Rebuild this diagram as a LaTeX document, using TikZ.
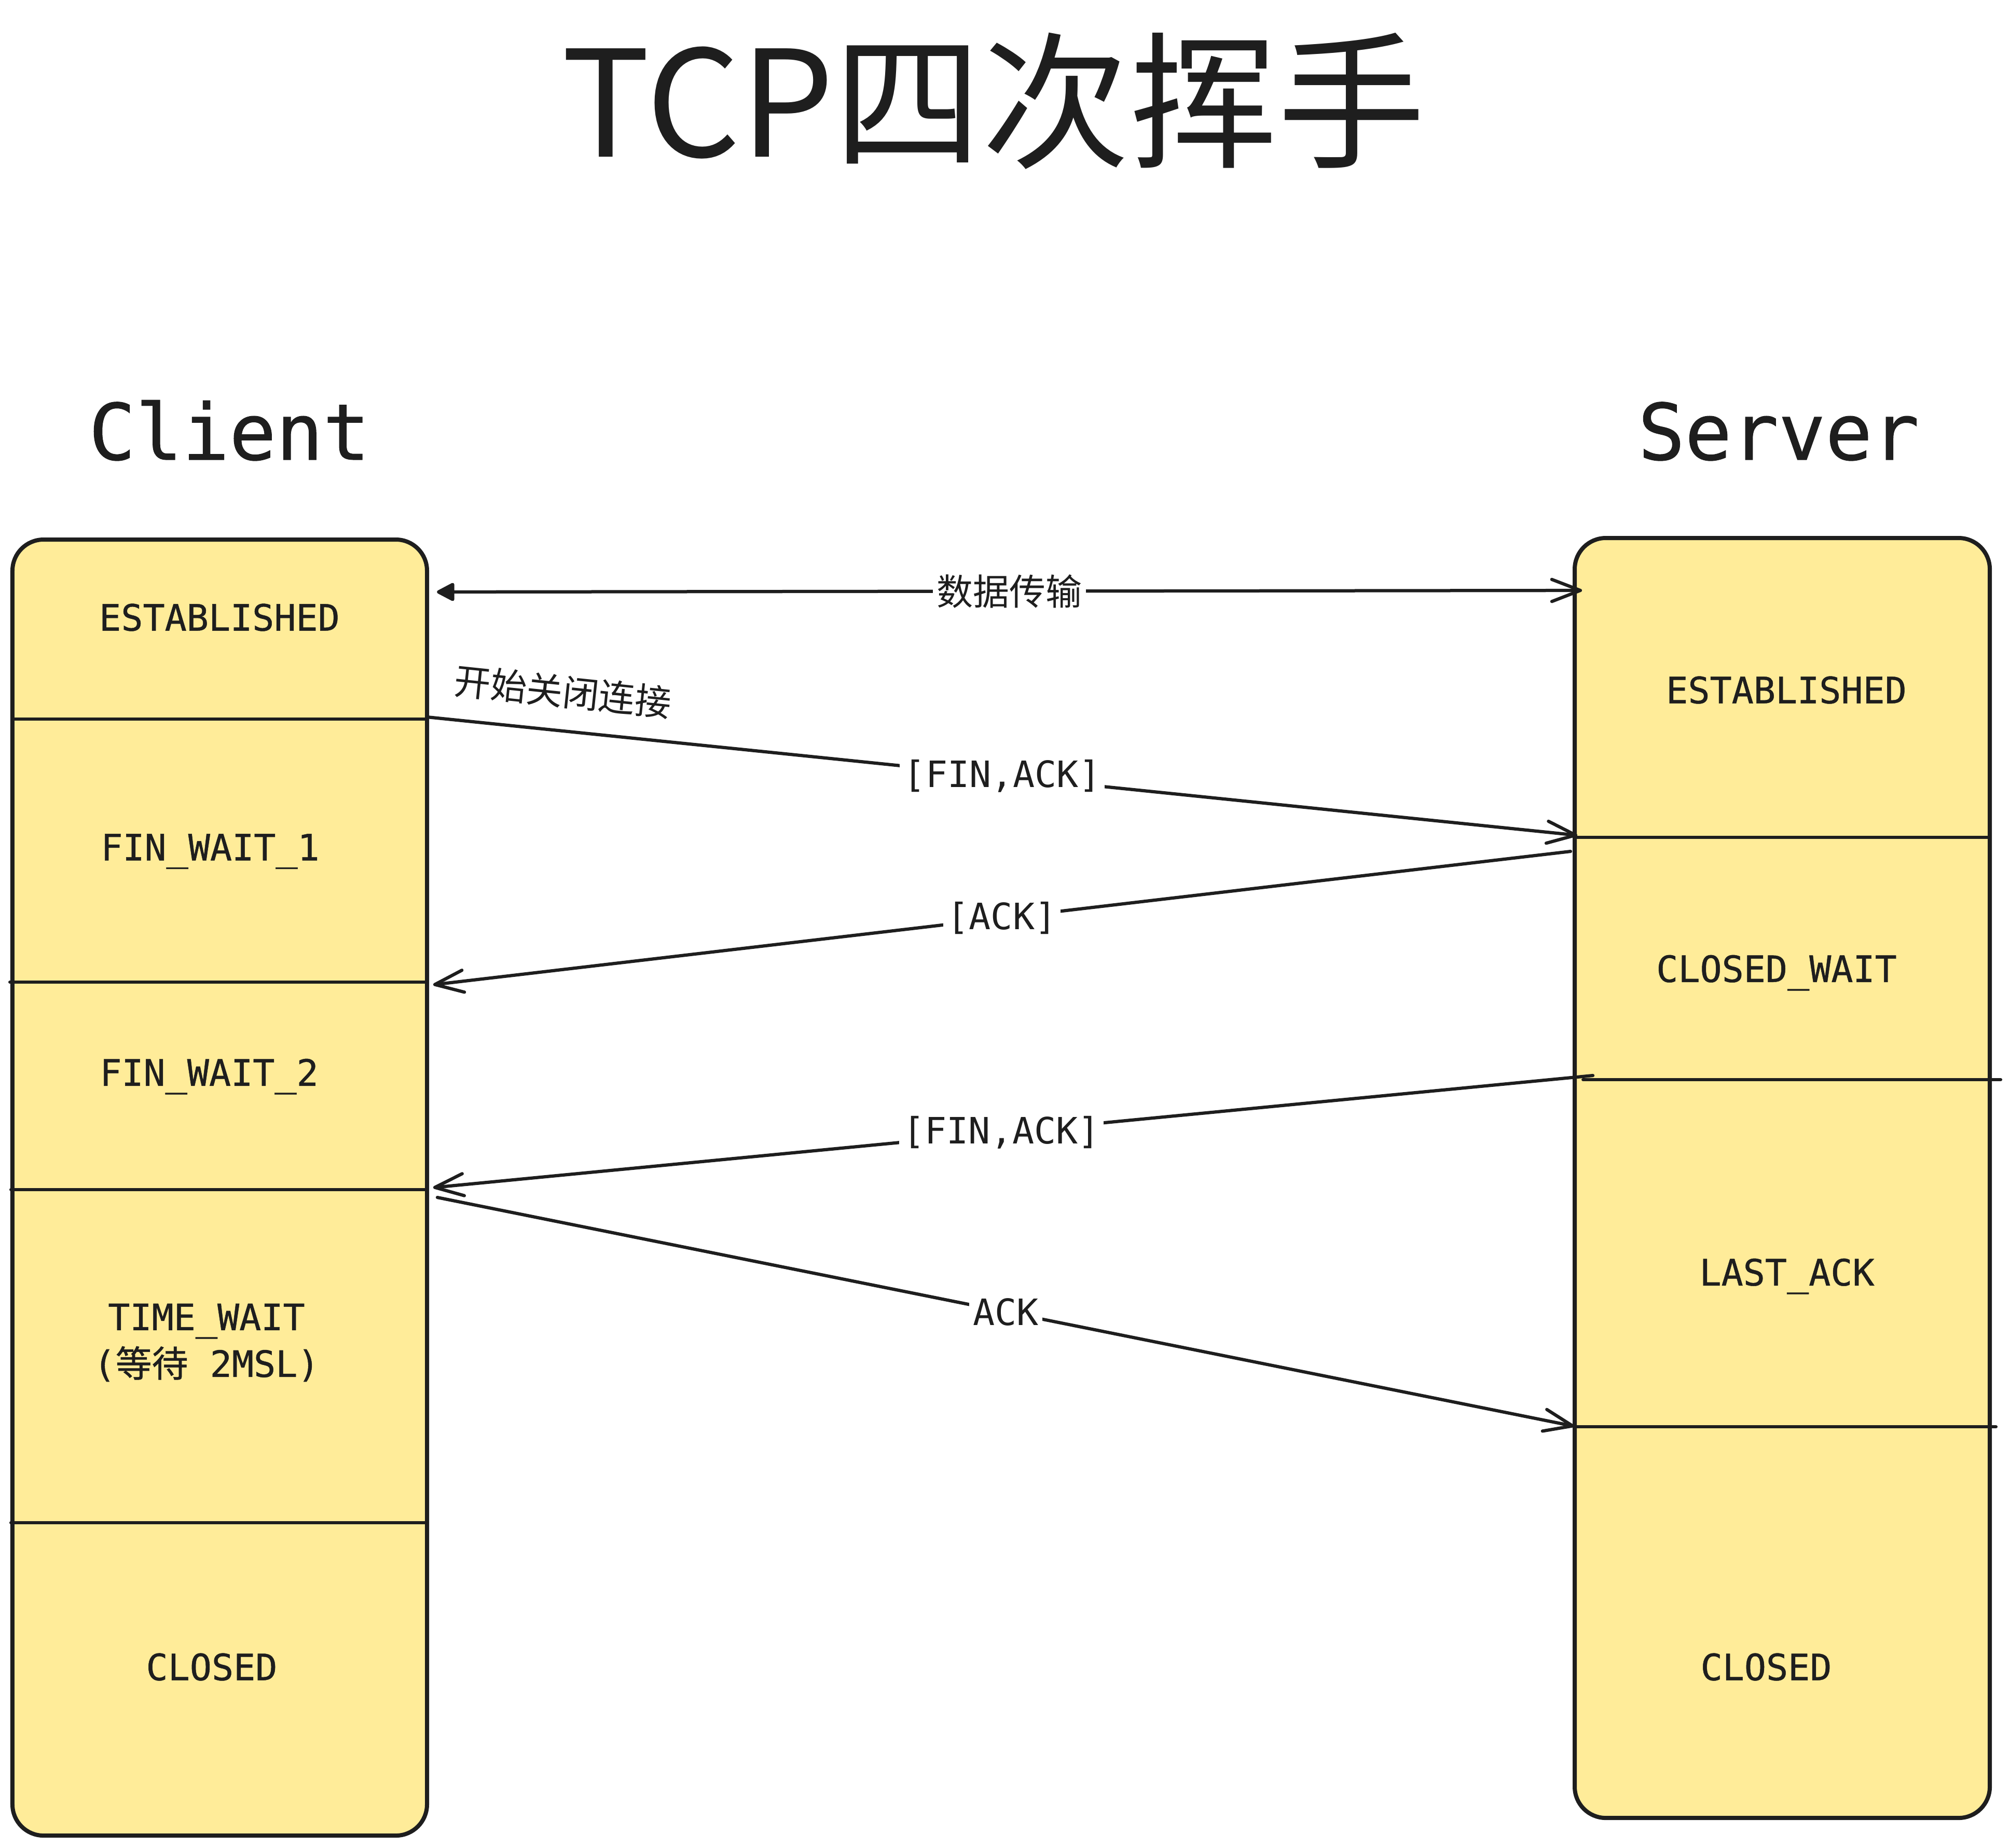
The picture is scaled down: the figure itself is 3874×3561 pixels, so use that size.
\documentclass[tikz,border=0pt]{standalone}
\usepackage{fontspec}
\setmonofont{DejaVu Sans Mono}
\newfontfamily\statemono{DejaVu Sans Mono}[FakeBold=0.7]
\newfontfamily\cjk{Noto Sans CJK SC}
\newfontfamily\statecjk{Noto Sans CJK SC}[FakeBold=0.7]
\usetikzlibrary{arrows.meta}
\definecolor{ink}{HTML}{1E1E1E}
\definecolor{note}{HTML}{FFEC99}
\begin{document}
\begin{tikzpicture}[x=0.2pt,y=-0.2pt,
  lane/.style={draw=ink, fill=note, line width=1.6pt, rounded corners=12pt,
    inner sep=0pt, outer sep=0pt},
  divider/.style={draw=ink, line width=1.2pt, line cap=round},
  state/.style={font=\statemono\fontsize{14}{18}\selectfont, text=ink, align=center, inner sep=0pt},
  heading/.style={font=\statemono\fontsize{30}{36}\selectfont, text=ink, anchor=base, inner sep=0pt},
  msg/.style={draw=ink, line width=1.25pt, line cap=round,
    -{Straight Barb[length=11pt,width=8.5pt,round]}},
  msglabel/.style={fill=white, inner sep=1.5pt, text=ink, font=\ttfamily\fontsize{14}{18}\selectfont},
  cjklabel/.style={fill=white, inner sep=1.5pt, text=ink, font=\cjk\fontsize{14}{18}\selectfont},
]
\useasboundingbox (0,0) rectangle (3874,3561);

% title and headings
\node[font=\cjk\fontsize{57}{64}\selectfont, text=ink, anchor=base, inner sep=0pt] (title) at (1915,302) {TCP四次挥手};
\node[heading] (clienthead) at (442,886) {Client};
\node[heading] (serverhead) at (3428,886) {Server};

% lanes
\node[lane, minimum width=159.8pt, minimum height=499.6pt] (client) at (423.5,2289) {};
\node[lane, minimum width=160pt, minimum height=493.4pt] (server) at (3435,2270.5) {};

% client dividers
\draw[divider] (24,1386) -- (823,1386);
\draw[divider] (19,1893) -- (823,1893);
\draw[divider] (21,2293) -- (823,2293);
\draw[divider] (21,2935) -- (823,2935);

% server dividers
\draw[divider] (3035,1614) -- (3835,1614);
\draw[divider] (3051,2081) -- (3856,2081);
\draw[divider] (3035,2750) -- (3847,2750);

% client states
\node[state] (c1) at (423,1190) {ESTABLISHED};
\node[state] (c2) at (405,1641) {FIN\_WAIT\_1};
\node[state] (c3) at (403,2075) {FIN\_WAIT\_2};
\node[state] (c4) at (398,2588) {TIME\_WAIT\\({\statecjk 等待} 2MSL)};
\node[state] (c5) at (408,3213) {CLOSED};

% server states
\node[state] (s1) at (3443,1330) {ESTABLISHED};
\node[state] (s2) at (3424,1875) {CLOSED\_WAIT};
\node[state] (s3) at (3444,2460) {LAST\_ACK};
\node[state] (s4) at (3404,3213) {CLOSED};

% connector endpoints
\coordinate (a1s) at (842,1141);
\coordinate (a1e) at (3049,1138);
\coordinate (a2s) at (823,1382);
\coordinate (a2e) at (3040,1610);
\coordinate (a3s) at (3027,1641);
\coordinate (a3e) at (835,1898);
\coordinate (a4s) at (3070,2073);
\coordinate (a4e) at (835,2289);
\coordinate (a5s) at (843,2308);
\coordinate (a5e) at (3034,2749);

% messages
\draw[msg, {Triangle[length=7.5pt,width=7.5pt,round]}-{Straight Barb[length=11pt,width=8.5pt,round]}]
  (a1s) -- node[cjklabel] (l1) {数据传输} (a1e);
\draw[msg] (a2s) -- node[msglabel] (l2) {[FIN,ACK]} (a2e);
\draw[msg] (a3s) -- node[msglabel] (l3) {[ACK]} (a3e);
\draw[msg] (a4s) -- node[msglabel, pos=0.51] (l4) {[FIN,ACK]} (a4e);
\draw[msg] (a5s) -- node[msglabel] (l5) {ACK} (a5e);

% note
\node[font=\cjk\fontsize{14}{18}\selectfont, text=ink, rotate=-6, inner sep=0pt] (note) at (1085,1333) {开始关闭连接};
\end{tikzpicture}
\end{document}
